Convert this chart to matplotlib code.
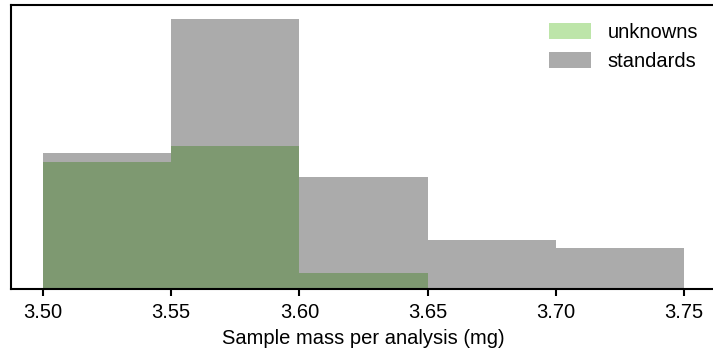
import matplotlib
matplotlib.use('Agg')
import matplotlib.pyplot as plt
import numpy as np

plt.rcParams['font.family'] = ['Liberation Sans', 'DejaVu Sans']

# bin edges (mg) and bar heights (arbitrary units)
bin_edges = [3.50, 3.55, 3.60, 3.65, 3.70, 3.75]
unknowns = [12.7, 14.3, 1.6, 0.0, 0.0]
standards = [13.6, 27.1, 11.2, 4.9, 4.1]
tick_values = [3.50, 3.55, 3.60, 3.65, 3.70, 3.75]
tick_labels = ['3.50', '3.55', '3.60', '3.65', '3.70', '3.75']

fig = plt.figure(figsize=(7.13, 3.6), dpi=100)
ax = fig.add_axes([11 / 713, 71 / 360, 705 / 713, 284 / 360])

centers = np.array(bin_edges[:-1]) + 0.025
ax.hist(centers, bins=bin_edges, weights=unknowns, histtype='stepfilled',
        color='#7dcd55', alpha=0.5, label='unknowns')
ax.hist(centers, bins=bin_edges, weights=standards, histtype='stepfilled',
        color='black', alpha=0.33, label='standards')

ax.set_xticks(tick_values)
ax.set_xticklabels(tick_labels)
ax.set_yticks([])
ax.set_xlabel('Sample mass per analysis (mg)', fontsize=14.5, labelpad=5)
ax.tick_params(axis='x', labelsize=14.5, width=1.5, length=5, pad=5)
for s in ax.spines.values():
    s.set_linewidth(1.5)

ax.legend(loc='upper right', frameon=False, fontsize=14.5,
          handlelength=2.1, handleheight=0.85)

fig.savefig('out.png', dpi=100)
